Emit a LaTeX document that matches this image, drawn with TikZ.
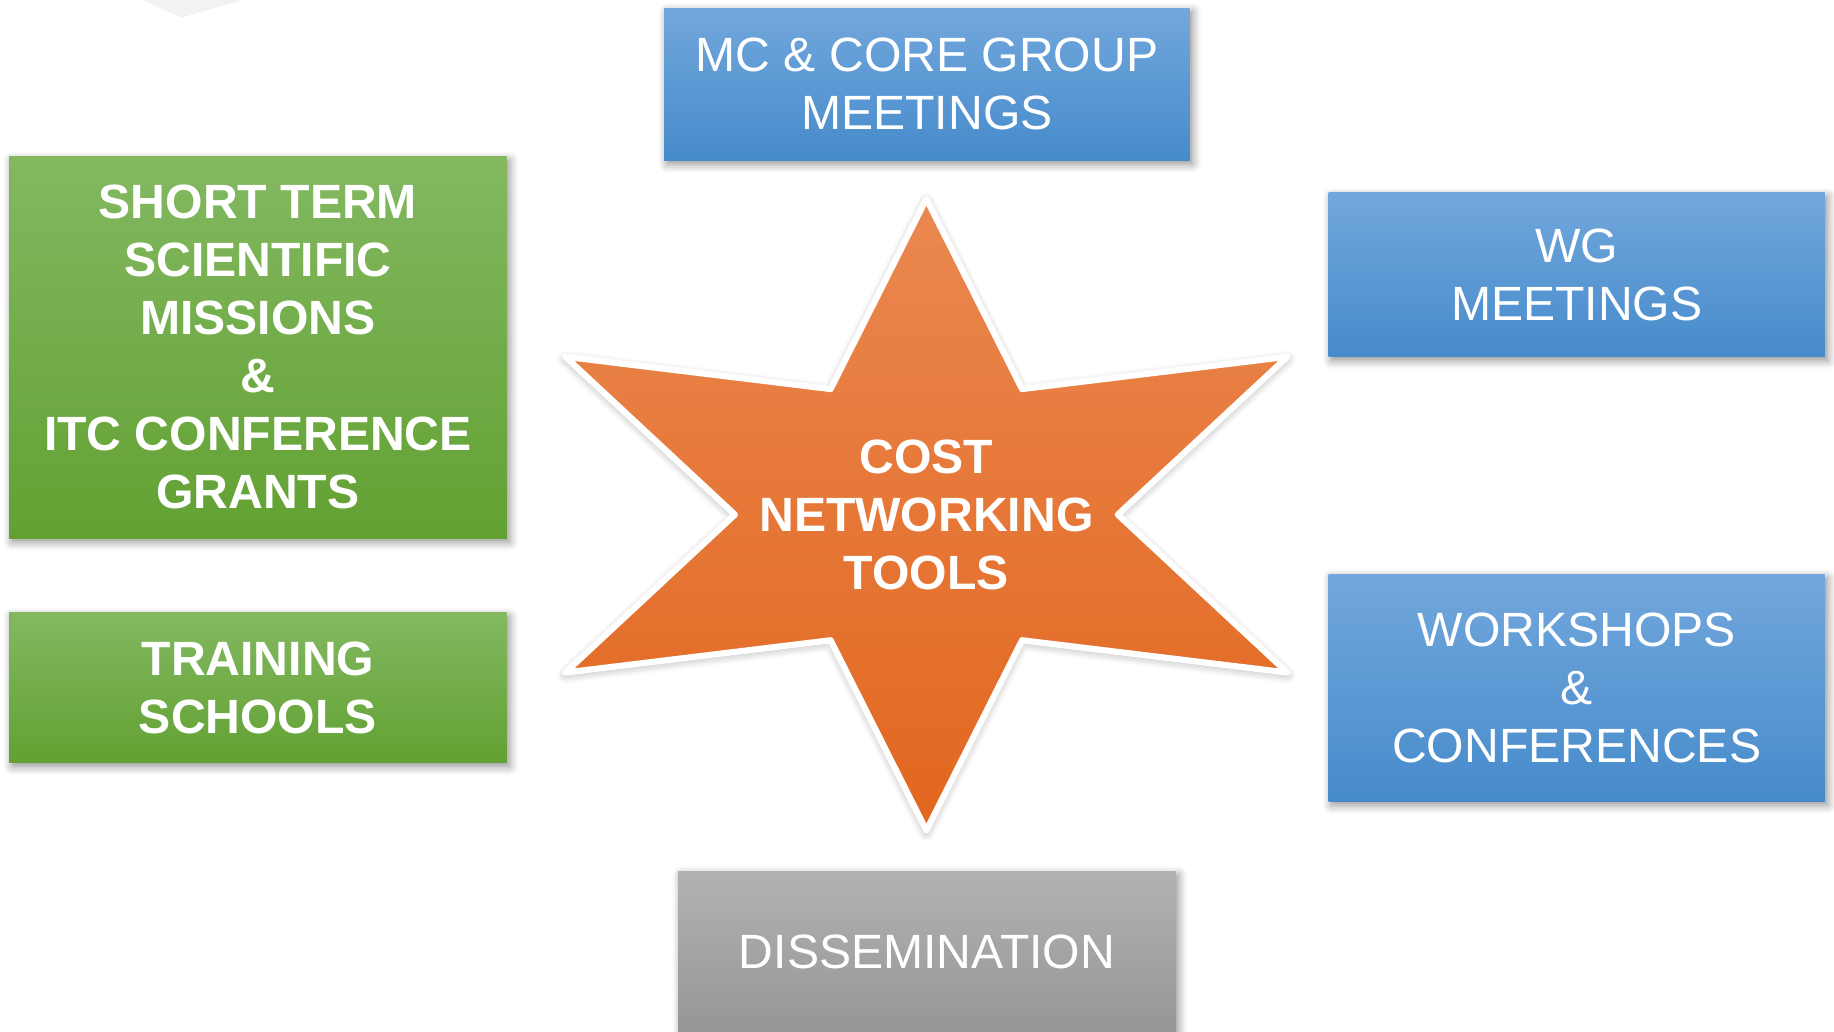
\documentclass[tikz,border=0pt]{standalone}
\usepackage{fontspec}
\setmainfont{Liberation Sans}
\usetikzlibrary{shadows.blur}

\definecolor{bluetop}{RGB}{114,167,220}
\definecolor{bluebot}{RGB}{70,139,203}
\definecolor{greentop}{RGB}{131,184,97}
\definecolor{greenbot}{RGB}{98,161,50}
\definecolor{graytop}{RGB}{178,178,178}
\definecolor{graybot}{RGB}{150,150,150}
\definecolor{orangetop}{RGB}{234,136,80}
\definecolor{orangebot}{RGB}{226,102,30}
\definecolor{ghost}{RGB}{242,242,242}

\begin{document}
\begin{tikzpicture}[x=0.01cm,y=-0.01cm,
  box/.style={minimum width=4.25cm,text=white,align=center,inner sep=0pt,
    font=\fontsize{11.7}{14.1}\selectfont,
    blur shadow={shadow xshift=0.7pt,shadow yshift=-0.9pt,shadow blur steps=6,shadow opacity=45}},
  bluebox/.style={box,top color=bluetop,bottom color=bluebot},
  greenbox/.style={box,top color=greentop,bottom color=greenbot,
    font=\fontsize{11.7}{14.1}\selectfont\bfseries},
  graybox/.style={box,top color=graytop,bottom color=graybot},
  startool/.style={draw=white,line width=1.5pt,line join=round,
    top color=orangetop,bottom color=orangebot,
    blur shadow={shadow xshift=0pt,shadow yshift=-0.6pt,shadow blur steps=6,shadow opacity=35}},
  ]
  \useasboundingbox (0,0) rectangle (1568,881.5);
  \fill[ghost] (122,0) -- (155,15) -- (208,0) -- cycle;

  % the star
  \begin{scope}[shift={(792,440)},xscale=1.32]
    \draw[startool] (90:270) -- (60:124) -- (30:270) -- (0:124) -- (-30:270) -- (-60:124)
      -- (-90:270) -- (-120:124) -- (-150:270) -- (180:124) -- (150:270) -- (120:124) -- cycle;
  \end{scope}
  \node[text=white,align=center,inner sep=0pt,font=\fontsize{11.7}{14.1}\selectfont\bfseries]
    (tools) at (792,440) {COST\\NETWORKING\\TOOLS};

  % boxes
  \node[bluebox,minimum width=4.49cm,minimum height=1.30cm] (mc) at (792.5,72) {MC \& CORE GROUP\\MEETINGS};
  \node[greenbox,minimum height=3.26cm] (stsm) at (220.5,297) {SHORT TERM\\SCIENTIFIC\\MISSIONS\\\&\\ITC CONFERENCE\\GRANTS};
  \node[greenbox,minimum height=1.28cm] (school) at (220.5,588) {TRAINING\\SCHOOLS};
  \node[bluebox,minimum width=4.24cm,minimum height=1.40cm] (wg) at (1348,235) {WG\\MEETINGS};
  \node[bluebox,minimum width=4.24cm,minimum height=1.94cm] (workshop) at (1348,588) {WORKSHOPS\\\&\\CONFERENCES};
  \node[graybox,minimum height=1.38cm] (dissem) at (792.5,814) {DISSEMINATION};
\end{tikzpicture}
\end{document}
